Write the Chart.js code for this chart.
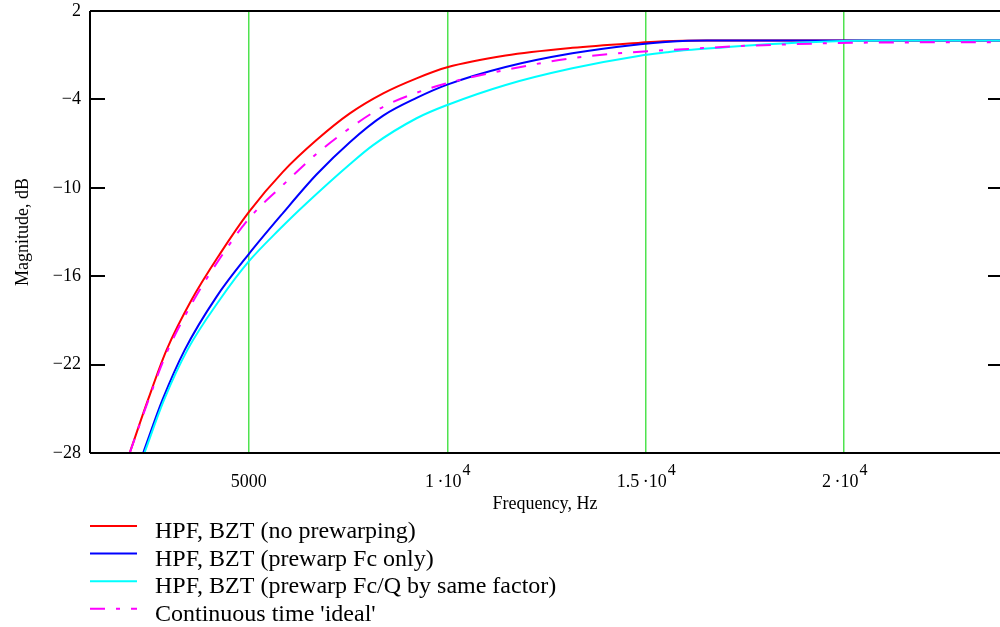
<!DOCTYPE html>
<html>
<head>
<meta charset="utf-8">
<script src="https://cdn.jsdelivr.net/npm/chart.js@4.4.1/dist/chart.umd.min.js"></script>
<style>
  html, body { margin: 0; padding: 0; background: #fff; overflow: hidden; }
  #wrap { width: 1004px; height: 627px; }
</style>
</head>
<body>
<div id="wrap"><canvas id="magChart"></canvas></div>
<script>
// Magnitude response of HPF variants

const redFreq = [2000, 2460, 2930, 3560, 4270, 5000, 5865, 6706, 7546, 8386, 9227, 10000, 11470, 13150, 14860, 15450, 16500, 24000];
const redDb = [-28, -24.4, -21.0, -17.6, -14.5, -11.65, -8.9, -6.76, -4.95, -3.59, -2.57, -1.82, -1.02, -0.5, -0.15, -0.05, 0, 0];

const blueFreq = [2340, 2825, 3387, 4186, 5000, 5865, 6706, 7546, 8386, 9227, 10000, 11470, 13150, 14860, 15500, 16550, 24000];
const blueDb = [-28, -24.4, -21.0, -17.4, -14.5, -11.7, -9.1, -6.9, -5.1, -3.9, -3.0, -1.8, -0.87, -0.25, -0.1, 0, 0];

const cyanFreq = [2370, 2865, 3455, 4269, 5000, 5781, 6454, 7546, 8133, 9227, 10000, 11471, 13150, 14856, 15537, 16041, 16949, 17500, 18058, 18965, 20326, 21000, 24000];
const cyanDb = [-28, -24.4, -21.0, -17.6, -15.0, -12.8, -11.05, -8.4, -7.1, -5.28, -4.38, -3.02, -1.89, -1.03, -0.8, -0.65, -0.47, -0.36, -0.26, -0.13, -0.02, 0, 0];

const magFreq = [2000, 2460, 2930, 3640, 4270, 5000, 5865, 6706, 7546, 8386, 9227, 10000, 11470, 13150, 14860, 15940, 17380, 18640, 20400, 24000];
const magDb = [-28, -24.5, -21.2, -17.5, -14.8, -12.1, -9.8, -7.7, -5.95, -4.5, -3.55, -2.9, -2.0, -1.2, -0.76, -0.6, -0.38, -0.26, -0.15, -0.12];

const seriesLabels = [
    'HPF, BZT (no prewarping)',
    'HPF, BZT (prewarp Fc only)',
    'HPF, BZT (prewarp Fc/Q by same factor)',
    "Continuous time 'ideal'"
];

const xTickValues = [5000, 10000, 15000, 20000];
const xTickBase = ['5000', '1\u2009\u00b710', '1.5\u2009\u00b710', '2\u2009\u00b710'];
const xTickExp = ['', '4', '4', '4'];
const yTickValues = [2, -4, -10, -16, -22, -28];

const SERIF = '"Liberation Serif", "Times New Roman", serif';

function toPoints(freq, db) {
    return freq.map((f, i) => ({ x: f, y: db[i] }));
}

// рамка, засечки, подписи оси X и легенда
const decorPlugin = {
    id: 'decor',
    afterDatasetsDraw(chart) {
        const { ctx, chartArea: a, scales } = chart;
        ctx.save();
        ctx.strokeStyle = '#000';
        ctx.lineWidth = 2;
        ctx.beginPath();
        ctx.moveTo(a.left, a.top); ctx.lineTo(a.right, a.top);
        ctx.moveTo(a.left, a.bottom); ctx.lineTo(a.right, a.bottom);
        ctx.moveTo(a.left, a.top); ctx.lineTo(a.left, a.bottom);
        ctx.moveTo(a.right, a.top); ctx.lineTo(a.right, a.bottom);
        ctx.stroke();
        // inward ticks on both sides
        yTickValues.forEach(v => {
            const y = Math.round(scales.y.getPixelForValue(v));
            if (y <= a.top + 2 || y >= a.bottom - 2) return;
            ctx.beginPath();
            ctx.moveTo(a.left, y); ctx.lineTo(a.left + 15, y);
            ctx.moveTo(a.right - 15, y); ctx.lineTo(a.right, y);
            ctx.stroke();
        });
        ctx.restore();
    },
    afterDraw(chart) {
        const { ctx, chartArea: a, scales } = chart;
        ctx.save();
        ctx.fillStyle = '#000';
        ctx.textBaseline = 'alphabetic';

        // tick labels with superscript exponent
        xTickValues.forEach((v, i) => {
            const x = scales.x.getPixelForValue(v);
            ctx.font = '18px ' + SERIF;
            const wBase = ctx.measureText(xTickBase[i]).width;
            ctx.font = '16px ' + SERIF;
            const wExp = xTickExp[i] ? ctx.measureText(xTickExp[i]).width : 0;
            const start = x - (wBase + wExp) / 2;
            ctx.font = '18px ' + SERIF;
            ctx.textAlign = 'left';
            ctx.fillText(xTickBase[i], start, 487);
            if (xTickExp[i]) {
                ctx.font = '16px ' + SERIF;
                ctx.fillText(xTickExp[i], start + wBase + 1, 475);
            }
        });

        ctx.font = '18px ' + SERIF;
        ctx.textAlign = 'center';
        ctx.fillText('Frequency, Hz', (a.left + 1000) / 2, 509);

        // legend
        chart.data.datasets.forEach((ds, i) => {
            const y = 526 + i * 27.6;
            ctx.save();
            ctx.strokeStyle = ds.borderColor;
            ctx.lineWidth = 2;
            ctx.setLineDash(ds.borderDash || []);
            ctx.beginPath();
            ctx.moveTo(90, y); ctx.lineTo(137, y);
            ctx.stroke();
            ctx.restore();
            ctx.font = '24px ' + SERIF;
            ctx.textAlign = 'left';
            ctx.fillText(ds.label, 155, y + 12);
        });
        ctx.restore();
    }
};

function initMagChart() {
    const ctx = document.getElementById('magChart').getContext('2d');
    const common = { pointRadius: 0, borderWidth: 2, fill: false, cubicInterpolationMode: 'monotone' };

    new Chart(ctx, {
        type: 'line',
        data: {
            datasets: [
                { ...common, label: seriesLabels[0], data: toPoints(redFreq, redDb), borderColor: '#ff0000', order: 4 },
                { ...common, label: seriesLabels[1], data: toPoints(blueFreq, blueDb), borderColor: '#0000ff', order: 3 },
                { ...common, label: seriesLabels[2], data: toPoints(cyanFreq, cyanDb), borderColor: '#00ffff', order: 2 },
                { ...common, label: seriesLabels[3], data: toPoints(magFreq, magDb), borderColor: '#ff00ff', borderDash: [15, 11, 4, 11], order: 1 }
            ]
        },
        options: {
            responsive: true,
            maintainAspectRatio: false,
            animation: false,
            layout: { padding: { top: 11, right: 1, left: 0, bottom: 0 } },
            plugins: {
                legend: { display: false },
                tooltip: { enabled: false }
            },
            scales: {
                x: {
                    type: 'linear',
                    min: 1000,
                    max: 24000,
                    afterBuildTicks: scale => { scale.ticks = xTickValues.map(v => ({ value: v })); },
                    afterFit: scale => { scale.height = 174; scale.paddingLeft = 0; scale.paddingRight = 0; },
                    ticks: { display: false },
                    grid: { color: '#4fe34f', lineWidth: 1.5, drawTicks: false },
                    border: { display: false }
                },
                y: {
                    min: -28,
                    max: 2,
                    afterBuildTicks: scale => { scale.ticks = yTickValues.map(v => ({ value: v })); },
                    afterFit: scale => { scale.width = 90; scale.paddingTop = 0; scale.paddingBottom = 0; },
                    ticks: {
                        color: '#000',
                        padding: 9,
                        font: { family: SERIF, size: 18 },
                        callback: v => (v < 0 ? '\u2212' + Math.abs(v) : String(v))
                    },
                    grid: { display: false, drawTicks: false },
                    border: { display: false },
                    title: {
                        display: true,
                        text: 'Magnitude, dB',
                        color: '#000',
                        font: { family: SERIF, size: 18 },
                        padding: { top: 12, bottom: 0 }
                    }
                }
            }
        },
        plugins: [decorPlugin]
    });
}

document.addEventListener('DOMContentLoaded', initMagChart);
</script>
</body>
</html>
